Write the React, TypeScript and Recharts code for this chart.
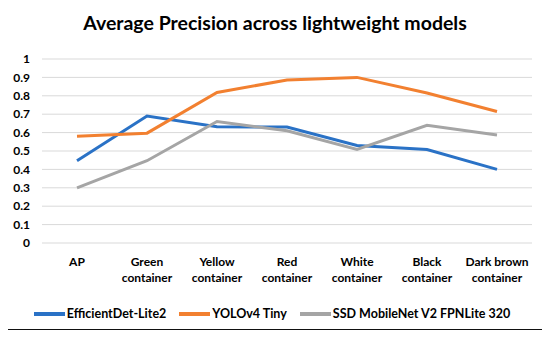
import { CartesianGrid, Legend, Line, LineChart, XAxis, YAxis } from "recharts";

const categories = [
  "AP",
  "Green container",
  "Yellow container",
  "Red container",
  "White container",
  "Black container",
  "Dark brown container",
];
const efficientDet = [0.447, 0.69, 0.632, 0.63, 0.53, 0.508, 0.4];
const yoloTiny = [0.58, 0.597, 0.818, 0.886, 0.9, 0.815, 0.715];
const ssdMobileNet = [0.3, 0.447, 0.66, 0.61, 0.508, 0.64, 0.587];
const yTicks = [0, 0.1, 0.2, 0.3, 0.4, 0.5, 0.6, 0.7, 0.8, 0.9, 1];
const seriesNames = ["EfficientDet-Lite2", "YOLOv4 Tiny", "SSD MobileNet V2 FPNLite 320"];

const data = categories.map((name, i) => ({
  name,
  eff: efficientDet[i],
  yolo: yoloTiny[i],
  ssd: ssdMobileNet[i],
}));

const font = "Lato, 'Noto Sans', sans-serif";

function CategoryTick({ x, y, payload }: any) {
  const words: string[] = payload.value.split(" ");
  const lines =
    words.length > 2 ? [words.slice(0, 2).join(" "), words.slice(2).join(" ")] : words;
  return (
    <text x={x} y={y} textAnchor="middle" fontSize={12} fontWeight={700} fill="#000" fontFamily={font}>
      {lines.map((l, i) => (
        <tspan key={i} x={x} dy={i === 0 ? 15 : 16}>
          {l}
        </tspan>
      ))}
    </text>
  );
}

function LegendContent({ payload }: any) {
  const items = [...(payload || [])].sort(
    (a: any, b: any) => seriesNames.indexOf(a.value) - seriesNames.indexOf(b.value)
  );
  return (
    <div style={{ display: "flex", justifyContent: "center", gap: 13, fontFamily: font, fontSize: 12.5, fontWeight: 700, paddingLeft: 12 }}>
      {items.map((p: any) => (
        <div key={p.value} style={{ display: "flex", alignItems: "center" }}>
          <span style={{ display: "inline-block", width: 31, height: 4, background: p.color, marginRight: 2 }} />
          <span>{p.value}</span>
        </div>
      ))}
    </div>
  );
}

export default function App() {
  return (
    <div style={{ position: "relative", width: 550, height: 338, margin: -8, background: "#fff" }}>
      <svg width={550} height={338} style={{ position: "absolute", left: 0, top: 0 }}>
        <rect x={7} y={7} width={538} height={323} fill="none" stroke="#111" strokeWidth={2} />
      </svg>
      <div
        style={{
          position: "absolute",
          top: 11,
          left: 0,
          width: 550,
          textAlign: "center",
          fontFamily: font,
          fontWeight: 700,
          fontSize: 19.5,
          color: "#000",
        }}
      >
        Average Precision across lightweight models
      </div>
      <div style={{ position: "absolute", left: 0, top: 0 }}>
        <LineChart width={550} height={338} data={data} margin={{ top: 59, right: 18, left: 0, bottom: 4 }}>
          <CartesianGrid vertical={false} stroke="#d9d9d9" />
          <XAxis
            dataKey="name"
            axisLine={false}
            tickLine={false}
            interval={0}
            height={63}
            padding={{ left: 35, right: 35 }}
            tick={<CategoryTick />}
          />
          <YAxis
            width={42}
            domain={[0, 1]}
            ticks={yTicks}
            interval={0}
            axisLine={false}
            tickLine={false}
            tick={{ fontSize: 12, fontWeight: 700, fill: "#000", fontFamily: font }}
            tickMargin={6}
          />
          <Legend verticalAlign="bottom" height={28} content={<LegendContent />} />
          <Line dataKey="eff" name={seriesNames[0]} stroke="#2a72c6" strokeWidth={3} dot={false} isAnimationActive={false} />
          <Line dataKey="yolo" name={seriesNames[1]} stroke="#f28030" strokeWidth={3} dot={false} isAnimationActive={false} />
          <Line dataKey="ssd" name={seriesNames[2]} stroke="#a5a5a5" strokeWidth={3} dot={false} isAnimationActive={false} />
        </LineChart>
      </div>
    </div>
  );
}
